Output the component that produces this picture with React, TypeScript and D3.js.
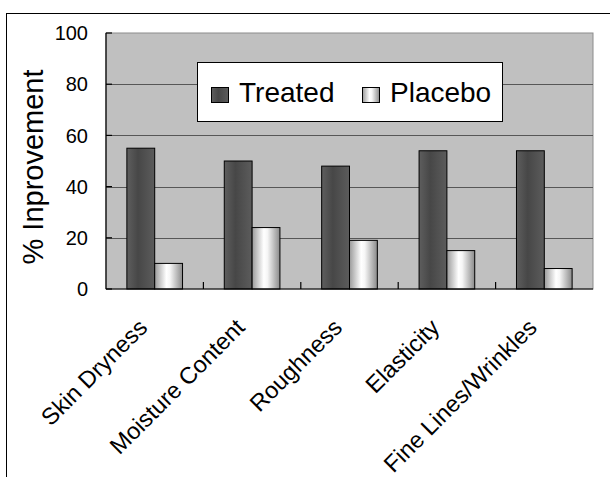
import { useEffect, useRef } from 'react';
import * as d3 from 'd3';

const categories = ['Skin Dryness', 'Moisture Content', 'Roughness', 'Elasticity', 'Fine Lines/Wrinkles'];
const seriesNames = ['Treated', 'Placebo'];
const treated = [55, 50, 48, 54, 54];
const placebo = [10, 24, 19, 15, 8];
const yTicks = [0, 20, 40, 60, 80, 100];

const width = 610;
const height = 477;
const plot = { left: 106, right: 593, top: 33, bottom: 289 };
const font = '"Liberation Sans", Arial, sans-serif';

export default function App() {
  const ref = useRef<SVGSVGElement>(null);

  useEffect(() => {
    if (!ref.current) return;
    const svg = d3.select(ref.current);
    svg.selectAll('*').remove();

    const defs = svg.append('defs');
    const grad = (id: string, stops: [number, string][]) => {
      const g = defs.append('linearGradient').attr('id', id).attr('x1', 0).attr('x2', 1).attr('y1', 0).attr('y2', 0);
      stops.forEach(([o, c]) => g.append('stop').attr('offset', o).attr('stop-color', c));
    };
    grad('g-treated', [[0, '#5e5e5e'], [0.4, '#474747'], [1, '#5c5c5c']]);
    grad('g-placebo', [[0, '#9a9a9a'], [0.42, '#ffffff'], [0.55, '#f6f6f6'], [1, '#8a8a8a']]);
    const fills = ['url(#g-treated)', 'url(#g-placebo)'];

    svg.append('rect').attr('width', width).attr('height', height).attr('fill', '#fff');
    // outer chart frame (runs off the right and bottom edges)
    svg.append('rect')
      .attr('x', 6.5).attr('y', 13.5).attr('width', 700).attr('height', 600)
      .attr('fill', 'none').attr('stroke', '#000').attr('stroke-width', 1);

    const x = d3.scaleBand<string>().domain(categories).range([plot.left, plot.right]).padding(0);
    const xs = d3.scaleBand<string>().domain(seriesNames).range([0, x.bandwidth()])
      .paddingInner(0).paddingOuter(0.75);
    const y = d3.scaleLinear().domain([0, 100]).range([plot.bottom, plot.top]);

    // plot area
    svg.append('rect')
      .attr('x', plot.left).attr('y', plot.top)
      .attr('width', plot.right - plot.left).attr('height', plot.bottom - plot.top)
      .attr('fill', '#c0c0c0').attr('stroke', '#8c8c8c').attr('stroke-width', 1);

    svg.append('g')
      .selectAll('line')
      .data(yTicks.filter(d => d > 0 && d < 100))
      .join('line')
      .attr('x1', plot.left).attr('x2', plot.right)
      .attr('y1', d => Math.round(y(d)) + 0.5).attr('y2', d => Math.round(y(d)) + 0.5)
      .attr('stroke', '#575757').attr('stroke-width', 1);

    // bars
    const rows = categories.map((c, i) => ({ c, vals: [treated[i], placebo[i]] }));
    svg.append('g')
      .selectAll('g')
      .data(rows)
      .join('g')
      .attr('transform', d => `translate(${x(d.c)},0)`)
      .selectAll('rect')
      .data(d => d.vals.map((v, j) => ({ s: seriesNames[j], v, j })))
      .join('rect')
      .attr('x', d => xs(d.s) as number)
      .attr('y', d => y(d.v))
      .attr('width', xs.bandwidth())
      .attr('height', d => y(0) - y(d.v))
      .attr('fill', d => fills[d.j])
      .attr('stroke', '#000').attr('stroke-width', 1);

    // axes
    const axes = svg.append('g').attr('stroke', '#000').attr('stroke-width', 1.2);
    axes.append('line').attr('x1', plot.left).attr('x2', plot.left).attr('y1', plot.top).attr('y2', plot.bottom);
    axes.append('line').attr('x1', plot.left).attr('x2', plot.right).attr('y1', plot.bottom).attr('y2', plot.bottom);
    axes.selectAll('.yt')
      .data(yTicks)
      .join('line')
      .attr('x1', plot.left).attr('x2', plot.left + 6)
      .attr('y1', d => y(d)).attr('y2', d => y(d));
    axes.selectAll('.xt')
      .data(categories.slice(1))
      .join('line')
      .attr('x1', d => x(d) as number).attr('x2', d => x(d) as number)
      .attr('y1', plot.bottom).attr('y2', plot.bottom - 7);

    // y tick labels
    svg.append('g')
      .selectAll('text')
      .data(yTicks)
      .join('text')
      .attr('x', 88).attr('y', d => y(d)).attr('dy', '0.36em')
      .attr('text-anchor', 'end')
      .style('font-family', font).style('font-size', '20px')
      .text(d => d);

    // category labels
    svg.append('g')
      .selectAll('text')
      .data(categories)
      .join('text')
      .attr('transform', d => `translate(${(x(d) as number) + x.bandwidth() / 2 - 6},${plot.bottom + 40}) rotate(-45)`)
      .attr('text-anchor', 'end')
      .style('font-family', font).style('font-size', '23.5px')
      .text(d => d);

    // y axis title
    svg.append('text')
      .attr('transform', `translate(43,${(plot.top + plot.bottom) / 2 + 6}) rotate(-90)`)
      .attr('text-anchor', 'middle')
      .style('font-family', font).style('font-size', '29px')
      .text('% Inprovement');

    // legend
    const lg = svg.append('g');
    lg.append('rect').attr('x', 197.5).attr('y', 62.5).attr('width', 305).attr('height', 59)
      .attr('fill', '#fff').attr('stroke', '#000').attr('stroke-width', 1);
    const items = lg.selectAll('g').data(seriesNames).join('g')
      .attr('transform', (_, i) => `translate(${[211, 362][i]},0)`);
    items.append('rect').attr('x', 0.5).attr('y', 87.5).attr('width', 17).attr('height', 15)
      .attr('fill', (_, i) => fills[i]).attr('stroke', '#000').attr('stroke-width', 1);
    items.append('text').attr('x', 28).attr('y', 102)
      .style('font-family', font).style('font-size', '28px')
      .text(d => d);
  }, []);

  return <svg ref={ref} width={width} height={height} style={{ position: 'absolute', left: 0, top: 0 }} />;
}
